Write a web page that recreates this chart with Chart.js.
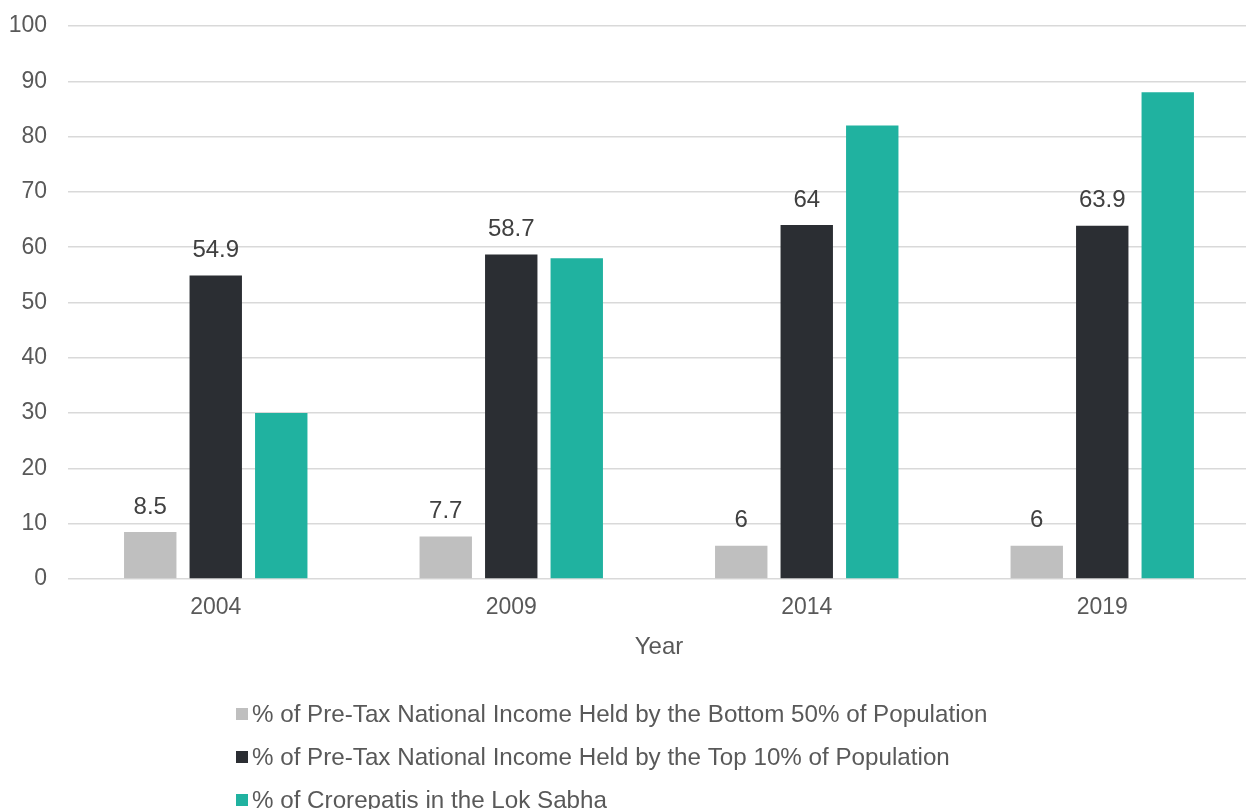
<!DOCTYPE html>
<html>
<head>
<meta charset="utf-8">
<script src="https://cdn.jsdelivr.net/npm/chart.js@4/dist/chart.umd.min.js"></script>
<style>
html,body{margin:0;padding:0;background:#fff;overflow:hidden;}
#wrap{width:1252px;height:809px;position:relative;}
</style>
</head>
<body>
<div id="wrap"><canvas id="c" width="1252" height="809"></canvas></div>
<script>
const categories = ['2004', '2009', '2014', '2019'];
const bottom50 = [8.5, 7.7, 6, 6];
const top10 = [54.9, 58.7, 64, 63.9];
const crorepatis = [30, 58, 82, 88];
const seriesNames = [
  '% of Pre-Tax National Income Held by the Bottom 50% of Population',
  '% of Pre-Tax National Income Held by the Top 10% of Population',
  '% of Crorepatis in the Lok Sabha'
];
const colors = ['#bfbfbf', '#2b2e33', '#20b2a0'];
const labelled = [true, true, false];
const FONT = '"Liberation Sans", Arial, sans-serif';

const valueLabels = {
  id: 'valueLabels',
  afterDatasetsDraw(chart) {
    const ctx = chart.ctx;
    ctx.save();
    ctx.font = '24px ' + FONT;
    ctx.fillStyle = '#404040';
    ctx.textAlign = 'center';
    ctx.textBaseline = 'middle';
    chart.data.datasets.forEach((ds, i) => {
      if (!labelled[i]) return;
      chart.getDatasetMeta(i).data.forEach((bar, j) => {
        ctx.fillText(String(ds.data[j]), bar.x, bar.y - 25);
      });
    });
    ctx.restore();
  }
};

const customLegend = {
  id: 'customLegend',
  afterDraw(chart) {
    const ctx = chart.ctx;
    ctx.save();
    ctx.font = '24.2px ' + FONT;
    ctx.textBaseline = 'middle';
    ctx.textAlign = 'left';
    const x0 = 236, y0 = 714, dy = 43;
    chart.data.datasets.forEach((ds, i) => {
      const y = y0 + i * dy;
      ctx.fillStyle = ds.backgroundColor;
      ctx.fillRect(x0, y - 6, 12, 12);
      ctx.fillStyle = '#595959';
      ctx.fillText(ds.label, x0 + 16, y + 1);
    });
    ctx.restore();
  }
};

new Chart(document.getElementById('c'), {
  type: 'bar',
  data: {
    labels: categories,
    datasets: [
      { label: seriesNames[0], data: bottom50, backgroundColor: colors[0] },
      { label: seriesNames[1], data: top10, backgroundColor: colors[1] },
      { label: seriesNames[2], data: crorepatis, backgroundColor: colors[2] }
    ]
  },
  options: {
    responsive: false,
    animation: false,
    datasets: { bar: { barPercentage: 0.8, categoryPercentage: 0.665 } },
    layout: { padding: { left: 9, top: 26, right: 2, bottom: 147 } },
    plugins: { legend: { display: false }, tooltip: { enabled: false } },
    scales: {
      x: {
        grid: { display: false, drawTicks: false },
        border: { display: false },
        ticks: { color: '#595959', font: { family: FONT, size: 23 }, padding: 15 },
        title: { display: true, text: 'Year', color: '#595959', font: { family: FONT, size: 24 }, padding: { top: 0, bottom: 0 } },
        afterFit(scale) { scale.height = 83; scale.paddingLeft = 0; scale.paddingRight = 0; }
      },
      y: {
        min: 0, max: 100,
        ticks: { stepSize: 10, color: '#595959', font: { family: FONT, size: 23 }, padding: 21 },
        grid: { color: '#d9d9d9', lineWidth: 1.5, drawTicks: false },
        border: { display: false },
        afterFit(scale) { scale.width = 59; scale.paddingTop = 0; scale.paddingBottom = 0; }
      }
    }
  },
  plugins: [valueLabels, customLegend]
});
</script>
</body>
</html>
